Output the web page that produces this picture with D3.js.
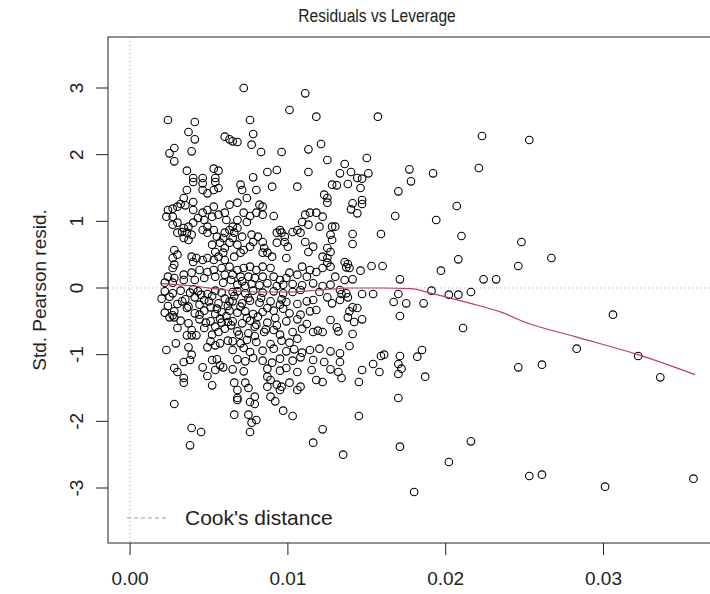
<!DOCTYPE html>
<html>
<head>
<meta charset="utf-8">
<script src="https://cdn.jsdelivr.net/npm/d3@7"></script>
<style>
  body { margin: 0; background: #fff; }
  text { font-family: "Liberation Sans", Arial, sans-serif; fill: #222; }
</style>
</head>
<body>
<div id="chart"></div>
<script>
// Axis ticks
const xTicks = [0, 0.01, 0.02, 0.03];
const xTickLabels = ["0.00", "0.01", "0.02", "0.03"];
const yTicks = [-3, -2, -1, 0, 1, 2, 3];

// Points as [leverage, std. pearson residual], grouped by area of the plot
const upperPoints = [
  [0.0024,2.52],[0.0041,2.49],[0.0037,2.34],[0.0041,2.23],[0.0060,2.27],[0.0028,2.10],[0.0025,2.02],
  [0.0028,1.90],[0.0039,2.05],[0.0036,1.76],[0.0053,1.79],[0.0056,1.76],[0.0040,1.65],[0.0046,1.65],
  [0.0054,1.65],[0.0072,3.00],[0.0111,2.92],[0.0101,2.67],[0.0118,2.57],[0.0076,2.52],[0.0078,2.31],
  [0.0065,2.20],[0.0068,2.19],[0.0063,2.23],[0.0077,2.15],[0.0083,2.04],[0.0096,2.04],[0.0113,2.08],
  [0.0121,2.16],[0.0125,1.92],[0.0087,1.74],[0.0093,1.77],[0.0113,1.74],[0.0078,1.66]
];

const positivePoints = [
  [0.0040,1.59],[0.0046,1.57],[0.0054,1.59],[0.0036,1.47],[0.0046,1.47],[0.0049,1.42],[0.0053,1.47],
  [0.0056,1.50],[0.0034,1.35],[0.0032,1.26],[0.0035,1.24],[0.0040,1.29],[0.0024,1.17],[0.0027,1.19],
  [0.0030,1.22],[0.0023,1.07],[0.0027,1.07],[0.0040,1.17],[0.0046,1.13],[0.0049,1.17],[0.0053,1.22],
  [0.0043,1.05],[0.0047,1.02],[0.0052,1.07],[0.0056,1.10],[0.0060,1.13],[0.0061,1.02],[0.0027,0.95],
  [0.0030,0.98],[0.0034,0.90],[0.0037,0.92],[0.0040,0.98],[0.0030,0.83],[0.0033,0.84],[0.0036,0.83],
  [0.0039,0.80],[0.0034,0.75],[0.0037,0.72],[0.0046,0.87],[0.0049,0.83],[0.0053,0.87],[0.0049,0.92],
  [0.0055,0.77],[0.0059,0.75],[0.0060,0.83],[0.0052,0.65],[0.0057,0.68],[0.0060,0.60],[0.0028,0.57],
  [0.0030,0.50],[0.0027,0.45],[0.0039,0.47],[0.0042,0.45],[0.0040,0.39],[0.0046,0.42],[0.0049,0.45],
  [0.0028,0.35],[0.0027,0.30],[0.0054,0.54],[0.0059,0.53],[0.0056,0.47],[0.0053,0.42],[0.0060,0.42],
  [0.0024,0.17],[0.0028,0.15],[0.0034,0.20],[0.0039,0.23],[0.0044,0.27],[0.0049,0.24],[0.0053,0.27],
  [0.0058,0.30],[0.0022,0.08],[0.0027,0.08],[0.0034,0.12],[0.0041,0.12],[0.0047,0.15],[0.0054,0.17],
  [0.0060,0.20],
  [0.0070,1.55],[0.0080,1.47],[0.0090,1.52],[0.0106,1.52],[0.0128,1.55],[0.0071,1.47],[0.0074,1.35],
  [0.0068,1.28],[0.0063,1.25],[0.0082,1.25],[0.0084,1.22],[0.0072,1.13],[0.0076,1.08],[0.0080,1.13],
  [0.0084,1.10],[0.0091,1.08],[0.0068,1.02],[0.0074,0.99],[0.0065,0.92],[0.0111,1.10],[0.0114,1.13],
  [0.0118,1.13],[0.0122,1.07],[0.0125,1.28],[0.0123,1.40],[0.0125,1.35],[0.0109,0.99],[0.0113,0.95],
  [0.0120,0.92],[0.0128,0.92],[0.0095,0.87],[0.0096,0.83],[0.0093,0.83],[0.0098,0.77],[0.0103,0.84],
  [0.0108,0.83],[0.0106,0.87],[0.0063,0.87],[0.0068,0.90],[0.0066,0.83],[0.0071,0.77],[0.0065,0.75],
  [0.0063,0.68],[0.0077,0.80],[0.0081,0.77],[0.0078,0.69],[0.0076,0.62],[0.0084,0.69],[0.0085,0.60],
  [0.0084,0.53],[0.0087,0.53],[0.0090,0.47],[0.0068,0.65],[0.0072,0.57],[0.0070,0.53],[0.0066,0.47],
  [0.0093,0.68],[0.0098,0.69],[0.0100,0.62],[0.0111,0.69],[0.0116,0.62],[0.0113,0.54],[0.0127,0.80],
  [0.0128,0.72],[0.0125,0.60],[0.0127,0.54],[0.0099,0.45],[0.0122,0.47],[0.0125,0.45],[0.0125,0.38],
  [0.0127,0.32],[0.0122,0.30],[0.0109,0.32],[0.0114,0.27],[0.0118,0.24],[0.0106,0.20],[0.0112,0.17],
  [0.0101,0.23],[0.0063,0.32],[0.0068,0.27],[0.0072,0.30],[0.0076,0.32],[0.0080,0.27],[0.0084,0.32],
  [0.0089,0.30],[0.0065,0.20],[0.0070,0.17],[0.0075,0.17],[0.0079,0.15],[0.0084,0.17],[0.0091,0.17],
  [0.0095,0.12],[0.0099,0.15],
  [0.0068,0.05],[0.0073,0.03],[0.0077,0.06],[0.0082,0.04],[0.0087,0.07],[0.0093,0.03],[0.0097,0.05],
  [0.0103,0.06],[0.0109,0.04],[0.0116,0.07],[0.0122,0.03],[0.0127,0.05]
];

const negativePoints = [
  [0.0022,-0.05],[0.0027,-0.08],[0.0032,-0.04],[0.0038,-0.07],[0.0043,-0.05],[0.0049,-0.09],[0.0054,-0.04],
  [0.0058,-0.07],[0.0020,-0.16],[0.0025,-0.13],[0.0035,-0.17],[0.0041,-0.14],[0.0047,-0.18],[0.0052,-0.12],
  [0.0060,-0.16],[0.0024,-0.27],[0.0030,-0.24],[0.0037,-0.28],[0.0044,-0.25],[0.0051,-0.29],[0.0056,-0.23],
  [0.0062,-0.27],[0.0022,-0.37],[0.0028,-0.35],[0.0041,-0.38],[0.0047,-0.34],[0.0054,-0.39],[0.0058,-0.36],
  [0.0032,-0.49],[0.0044,-0.47],[0.0051,-0.50],[0.0057,-0.46],[0.0062,-0.51],[0.0047,-0.60],[0.0054,-0.58],
  [0.0060,-0.61],[0.0051,-0.80],[0.0057,-0.83],[0.0062,-0.79],
  [0.0023,-0.93],[0.0029,-0.83],[0.0030,-0.60],[0.0027,-0.41],[0.0025,-0.44],[0.0028,-0.44],[0.0037,-0.53],
  [0.0039,-0.63],[0.0036,-0.71],[0.0039,-0.71],[0.0042,-0.71],[0.0037,-0.89],[0.0039,-1.00],[0.0038,-1.08],
  [0.0034,-1.11],[0.0028,-1.20],[0.0030,-1.26],[0.0034,-1.35],[0.0034,-1.42],[0.0046,-1.19],[0.0049,-1.32],
  [0.0052,-1.46],[0.0054,-1.23],[0.0057,-1.16],[0.0059,-1.19],[0.0052,-1.08],[0.0055,-1.07],[0.0049,-0.89],
  [0.0054,-0.86],
  [0.0068,-0.05],[0.0073,-0.08],[0.0078,-0.04],[0.0084,-0.07],[0.0091,-0.05],[0.0097,-0.08],[0.0103,-0.06],
  [0.0108,-0.03],[0.0120,-0.06],[0.0125,-0.14],[0.0128,-0.23],
  [0.0065,-0.20],[0.0071,-0.23],[0.0076,-0.19],[0.0082,-0.22],[0.0089,-0.20],[0.0095,-0.25],[0.0099,-0.21],
  [0.0106,-0.24],[0.0112,-0.20],[0.0116,-0.18],
  [0.0063,-0.34],[0.0068,-0.37],[0.0073,-0.35],[0.0078,-0.39],[0.0084,-0.36],[0.0091,-0.34],[0.0097,-0.31],
  [0.0101,-0.38],[0.0108,-0.40],[0.0114,-0.35],[0.0118,-0.33],
  [0.0065,-0.50],[0.0071,-0.53],[0.0076,-0.49],[0.0080,-0.55],[0.0087,-0.52],[0.0093,-0.56],[0.0099,-0.50],
  [0.0106,-0.47],[0.0112,-0.54],[0.0127,-0.48],
  [0.0068,-0.65],[0.0075,-0.68],[0.0079,-0.72],[0.0085,-0.66],[0.0091,-0.63],[0.0095,-0.70],[0.0103,-0.66],
  [0.0109,-0.61],[0.0116,-0.66],[0.0119,-0.64],[0.0122,-0.66],
  [0.0065,-0.80],[0.0070,-0.83],[0.0074,-0.78],[0.0080,-0.81],[0.0089,-0.84],[0.0096,-0.79],[0.0101,-0.82],
  [0.0106,-0.76],
  [0.0065,-0.93],[0.0072,-0.90],[0.0076,-0.96],[0.0084,-0.94],[0.0091,-0.91],[0.0099,-0.95],[0.0104,-0.92],
  [0.0109,-0.97],[0.0114,-0.93],[0.0120,-0.91],[0.0127,-0.95],
  [0.0068,-1.07],[0.0073,-1.10],[0.0078,-1.05],[0.0084,-1.09],[0.0090,-1.12],[0.0095,-1.06],[0.0103,-1.09],
  [0.0108,-1.04],[0.0116,-1.08],[0.0123,-1.11],
  [0.0065,-1.22],[0.0072,-1.25],[0.0087,-1.21],[0.0095,-1.24],[0.0099,-1.20],[0.0106,-1.26],[0.0115,-1.23],
  [0.0127,-1.22],[0.0118,-1.38],[0.0122,-1.41],[0.0087,-1.33],[0.0089,-1.38],[0.0093,-1.45],[0.0101,-1.42],
  [0.0108,-1.48],[0.0066,-1.42],[0.0073,-1.42],[0.0075,-1.50],[0.0068,-1.53],[0.0087,-1.48],[0.0096,-1.48],
  [0.0095,-1.53],[0.0106,-1.53],[0.0089,-1.63],[0.0079,-1.63],[0.0068,-1.65]
];

// dark overlapping cluster just below zero
const clusterPoints = [
  [0.0040,-0.02],[0.0045,-0.10],[0.0050,-0.20],[0.0055,-0.31],[0.0061,-0.42],[0.0066,-0.12],[0.0070,-0.28],
  [0.0074,-0.45],[0.0079,-0.58],[0.0083,-0.15],[0.0087,-0.30],[0.0044,-0.40],[0.0048,-0.52],[0.0056,-0.66],
  [0.0064,-0.56],[0.0069,-0.70],[0.0059,0.08],[0.0064,0.12],[0.0071,0.10],[0.0036,-0.30],[0.0033,-0.20],
  [0.0065,-0.06],[0.0075,-0.15],[0.0081,-0.43],[0.0086,-0.62],[0.0092,-0.45],[0.0096,-0.17],[0.0063,-0.20],
  [0.0058,-0.52],[0.0052,-0.70]
];

const lowerPoints = [
  [0.0028,-1.74],[0.0039,-2.10],[0.0045,-2.16],[0.0038,-2.36],[0.0066,-1.90],[0.0075,-1.90],[0.0080,-1.98],
  [0.0077,-2.02],[0.0076,-2.16],[0.0079,-1.74],[0.0076,-1.71],[0.0068,-1.68],[0.0092,-1.70],[0.0097,-1.84],
  [0.0103,-1.92],[0.0122,-2.12],[0.0116,-2.32]
];

const rightPoints = [
  [0.0157,2.57],[0.0223,2.28],[0.0150,1.95],[0.0136,1.86],[0.0133,1.72],[0.0140,1.74],[0.0151,1.72],
  [0.0144,1.65],[0.0147,1.64],[0.0138,1.56],[0.0131,1.54],[0.0146,1.50],[0.0177,1.78],[0.0178,1.60],
  [0.0192,1.72],[0.0221,1.80],[0.0170,1.45],[0.0147,1.32],[0.0141,1.27],[0.0147,1.26],[0.0140,1.18],
  [0.0144,1.12],[0.0168,1.08],[0.0194,1.02],[0.0207,1.23],[0.0130,0.92],[0.0141,0.81],[0.0141,0.66],
  [0.0159,0.81],[0.0210,0.78],[0.0248,0.69],[0.0208,0.43],[0.0197,0.26],[0.0136,0.39],[0.0138,0.36],
  [0.0139,0.30],[0.0137,0.31],[0.0146,0.26],[0.0153,0.33],[0.0160,0.33],[0.0246,0.33],[0.0224,0.13],
  [0.0232,0.13],[0.0171,0.13],[0.0130,0.17],[0.0136,0.12],[0.0141,0.13],
  [0.0133,-0.03],[0.0134,-0.09],[0.0137,-0.08],[0.0133,-0.18],[0.0138,-0.14],[0.0147,-0.09],[0.0154,-0.09],
  [0.0191,-0.04],[0.0202,-0.10],[0.0208,-0.10],[0.0216,-0.06],[0.0170,-0.09],[0.0167,-0.21],[0.0175,-0.23],
  [0.0186,-0.23],[0.0171,-0.42],[0.0141,-0.29],[0.0144,-0.30],[0.0139,-0.35],[0.0138,-0.44],[0.0142,-0.51],
  [0.0147,-0.47],[0.0131,-0.59],[0.0132,-0.65],[0.0141,-0.69],[0.0211,-0.60],[0.0139,-0.87],[0.0133,-0.98],
  [0.0133,-1.11],[0.0132,-1.26],[0.0134,-1.35],[0.0147,-1.23],[0.0145,-1.41],[0.0154,-1.14],[0.0158,-1.26],
  [0.0159,-1.02],[0.0161,-1.00],[0.0171,-1.02],[0.0170,-1.14],[0.0172,-1.21],[0.0170,-1.29],[0.0182,-1.03],
  [0.0185,-0.93],[0.0187,-1.33],[0.0246,-1.19],[0.0170,-1.65],[0.0145,-1.92],[0.0171,-2.38],[0.0135,-2.50],
  [0.0216,-2.30],[0.0202,-2.61],[0.0180,-3.06],
  [0.0253,2.22],[0.0267,0.45],[0.0306,-0.40],[0.0283,-0.91],[0.0261,-1.15],[0.0322,-1.02],[0.0336,-1.34],
  [0.0253,-2.82],[0.0261,-2.80],[0.0301,-2.98],[0.0357,-2.86]
];

// Smoothed (lowess) red line
const smoothLev = [0.0019,0.004,0.006,0.008,0.010,0.012,0.014,0.016,0.0178,0.0191,0.0214,0.0236,0.025,0.0282,0.0322,0.0358];
const smoothFit = [0.07,0.03,-0.03,-0.06,-0.06,-0.03,0,0,-0.01,-0.08,-0.22,-0.37,-0.51,-0.73,-1.0,-1.3];

const allPoints = upperPoints.concat(positivePoints, negativePoints, clusterPoints, lowerPoints, rightPoints);

// Set up dimensions
const width = 710;
const height = 594;
const plot = { left: 108, right: 725, top: 37, bottom: 543 };

const svg = d3.select("#chart")
    .append("svg")
    .attr("width", width)
    .attr("height", height)
    .style("display", "block");

const x = d3.scaleLinear().domain([-0.0014, 0.0377]).range([plot.left, plot.right]);
const y = d3.scaleLinear().domain([-3.825, 3.765]).range([plot.bottom, plot.top]);

// Title (squeezed horizontally, the original looks condensed)
svg.append("text")
    .attr("transform", "translate(377,22) scale(0.82,1)")
    .attr("text-anchor", "middle")
    .style("font-size", "19px")
    .text("Residuals vs Leverage");

// Reference lines at zero (dotted grey)
svg.append("line")
    .attr("x1", x(0)).attr("x2", x(0))
    .attr("y1", plot.top).attr("y2", plot.bottom)
    .attr("stroke", "#aaa")
    .attr("stroke-dasharray", "1,3");

svg.append("line")
    .attr("x1", plot.left).attr("x2", plot.right)
    .attr("y1", y(0)).attr("y2", y(0))
    .attr("stroke", "#aaa")
    .attr("stroke-dasharray", "1,3");

// Points
svg.append("g")
    .selectAll("circle")
    .data(allPoints)
    .enter().append("circle")
    .attr("cx", d => x(d[0]))
    .attr("cy", d => y(d[1]))
    .attr("r", 3.8)
    .attr("fill", "none")
    .attr("stroke", "#000")
    .attr("stroke-width", 1.1);

// Smoother
const line = d3.line()
    .x(d => x(d))
    .y((d, i) => y(smoothFit[i]))
    .curve(d3.curveMonotoneX);

svg.append("path")
    .datum(smoothLev)
    .attr("d", line)
    .attr("fill", "none")
    .attr("stroke", "#b8405a")
    .attr("stroke-width", 1.2);

// Box
svg.append("rect")
    .attr("x", plot.left)
    .attr("y", plot.top)
    .attr("width", plot.right - plot.left)
    .attr("height", plot.bottom - plot.top)
    .attr("fill", "none")
    .attr("stroke", "#222")
    .attr("stroke-width", 1);

// X axis
const xAxis = svg.append("g");
xAxis.selectAll("line")
    .data(xTicks)
    .enter().append("line")
    .attr("x1", d => x(d)).attr("x2", d => x(d))
    .attr("y1", plot.bottom).attr("y2", plot.bottom + 12)
    .attr("stroke", "#222");
xAxis.selectAll("text")
    .data(xTicks)
    .enter().append("text")
    .attr("x", d => x(d))
    .attr("y", 585)
    .attr("text-anchor", "middle")
    .style("font-size", "19px")
    .text((d, i) => xTickLabels[i]);

// Y axis
const yAxis = svg.append("g");
yAxis.selectAll("line")
    .data(yTicks)
    .enter().append("line")
    .attr("x1", plot.left - 12).attr("x2", plot.left)
    .attr("y1", d => y(d)).attr("y2", d => y(d))
    .attr("stroke", "#222");
yAxis.selectAll("text")
    .data(yTicks)
    .enter().append("text")
    .attr("transform", d => `translate(83,${y(d)}) rotate(-90)`)
    .attr("text-anchor", "middle")
    .style("font-size", "19px")
    .text(d => d);

svg.append("text")
    .attr("transform", `translate(46,${(plot.top + plot.bottom) / 2}) rotate(-90)`)
    .attr("text-anchor", "middle")
    .style("font-size", "19px")
    .text("Std. Pearson resid.");

// Legend
svg.append("line")
    .attr("x1", 127).attr("x2", 167)
    .attr("y1", 518).attr("y2", 518)
    .attr("stroke", "#999")
    .attr("stroke-dasharray", "4,3");
svg.append("text")
    .attr("x", 185)
    .attr("y", 525)
    .style("font-size", "21px")
    .text("Cook's distance");
</script>
</body>
</html>
